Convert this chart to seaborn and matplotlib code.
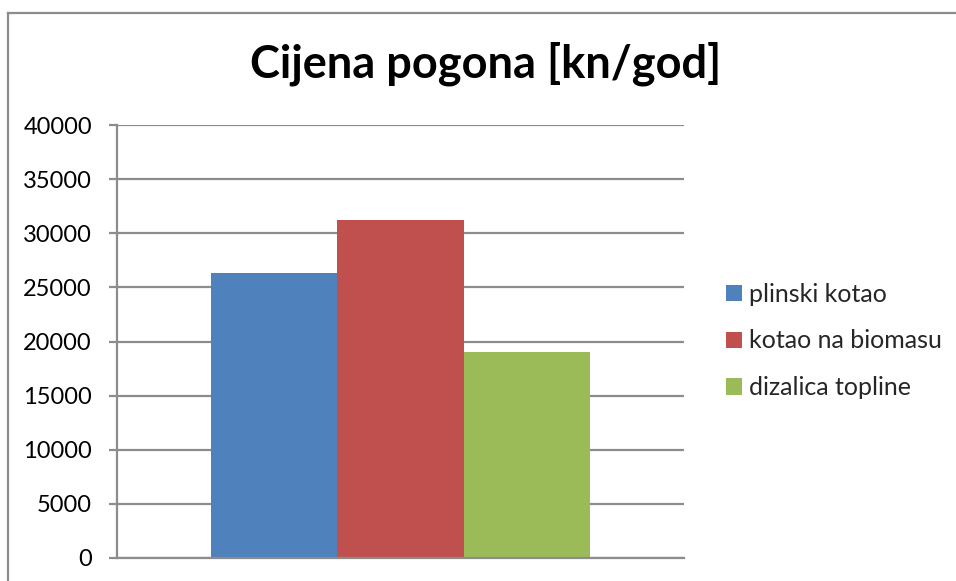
import matplotlib
matplotlib.use("Agg")
import matplotlib.pyplot as plt
import matplotlib.patches as mpatches
from matplotlib.lines import Line2D
import seaborn as sns
import pandas as pd

title = "Cijena pogona [kn/god]"
series = ["plinski kotao", "kotao na biomasu", "dizalica topline"]
values = [26300, 31200, 19000]
colors = ["#4F81BD", "#C0504D", "#9BBB59"]
yticks = [0, 5000, 10000, 15000, 20000, 25000, 30000, 35000, 40000]

sns.set_theme(style="white")
plt.rcParams["font.family"] = ["Lato", "DejaVu Sans"]

df = pd.DataFrame({"cat": [""] * len(series), "series": series, "val": values})

fig = plt.figure(figsize=(9.56, 5.81), dpi=100, facecolor="white",
                 edgecolor="white", linewidth=0)
ax = fig.add_axes([117 / 956, 23 / 581, (684 - 117) / 956, (558 - 125) / 581])

sns.barplot(data=df, x="cat", y="val", hue="series", hue_order=series,
            palette=colors, saturation=1, width=0.667, dodge=True, ax=ax,
            legend=False, edgecolor="none", linewidth=0)

grid_c = "#8C8C8C"
ax.set_ylim(0, 40000)
ax.set_xlim(-0.5, 0.5)
ax.set_yticks(yticks)
ax.set_yticklabels([str(v) for v in yticks], fontsize=17, color="black")
ax.set_xticks([])
ax.set_xlabel("")
ax.set_ylabel("")
ax.yaxis.grid(True, color=grid_c, linewidth=1.6)
ax.set_axisbelow(True)
ax.tick_params(axis="y", length=6, width=1.6, color=grid_c, pad=12, left=True)
for s in ["top", "right"]:
    ax.spines[s].set_visible(False)
for s in ["left", "bottom"]:
    ax.spines[s].set_color(grid_c)
    ax.spines[s].set_linewidth(1.6)

fig.text(486 / 956, 1 - 64 / 581, title, ha="center", va="center",
         fontsize=32.5, fontweight="bold", color="black")

handles = [mpatches.Patch(facecolor=c, edgecolor="none") for c in colors]
fig.legend(handles, series, loc="center left",
           bbox_to_anchor=(726 / 956, 1 - 341 / 581), frameon=False,
           fontsize=18, handlelength=0.62, handleheight=0.62,
           handletextpad=0.3, labelspacing=0.95, borderaxespad=0,
           borderpad=0)

fx = 7.5 / 956
fy = 1 - 12.5 / 581
fig.add_artist(Line2D([fx, fx], [-0.05, fy], transform=fig.transFigure,
                      color=grid_c, linewidth=1.6, solid_capstyle="projecting"))
fig.add_artist(Line2D([fx, 1.05], [fy, fy], transform=fig.transFigure,
                      color=grid_c, linewidth=1.6, solid_capstyle="projecting"))

fig.savefig("out.png", dpi=100, facecolor="white", edgecolor="none")
